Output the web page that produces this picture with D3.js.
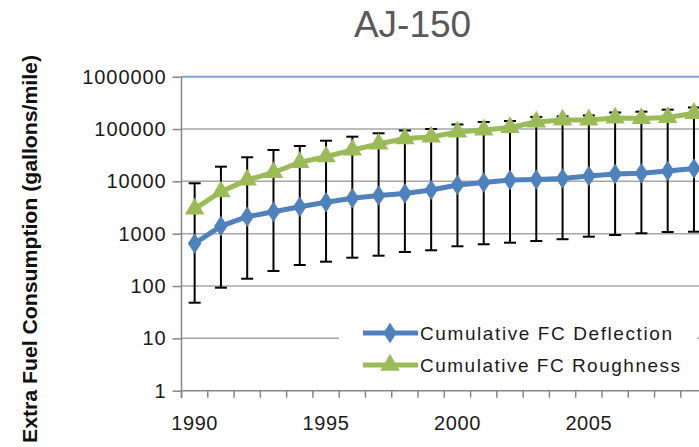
<!DOCTYPE html>
<html>
<head>
<meta charset="utf-8">
<script src="https://cdn.jsdelivr.net/npm/d3@7"></script>
<style>
  body { margin: 0; background: #fff; }
  svg { display: block; font-family: "Liberation Sans", Arial, sans-serif; }
</style>
</head>
<body>
<svg id="chart" width="699" height="447"></svg>
<script>
// categories
var years = [1990, 1991, 1992, 1993, 1994, 1995, 1996, 1997, 1998, 1999,
             2000, 2001, 2002, 2003, 2004, 2005, 2006, 2007, 2008, 2009];
// cumulative fuel consumption, gallons/mile
var deflection = [650, 1400, 2110, 2630, 3280, 3990, 4750, 5370, 5870, 6840,
                  8530, 9520, 10630, 10860, 11350, 12670, 13840, 14270, 15790, 17630];
var roughness = [2970, 6350, 10630, 14790, 22950, 29620, 39800, 51800, 65950, 70500,
                 87900, 95900, 107100, 136400, 148900, 148900, 162600, 159200, 166300, 200000];
// error bars (upper / lower ends)
var errHigh = [9190, 19090, 28840, 39800, 47430, 59840, 71450, 82960, 93800, 100200,
               122200, 136400, 142500, 169900, 173800, 181500, 207100, 214600, 234400, 258200];
var errLow = [48, 93, 138, 194, 252, 292, 348, 380, 447, 482,
              575, 628, 673, 726, 785, 877, 945, 1018, 1079, 1092];
var yTicks = [1, 10, 100, 1000, 10000, 100000, 1000000];
var xLabels = [1990, 1995, 2000, 2005];
var seriesNames = ["Cumulative FC Deflection", "Cumulative FC Roughness"];

var svg = d3.select("#chart");

var left = 181.5, bandW = 26.28;
var x = d3.scaleBand().domain(years).range([left, left + years.length * bandW]);
var y = d3.scaleLog().domain([1, 1000000]).range([390.7, 76.7]);
var right = left + years.length * bandW;
function cx(d) { return x(d) + x.bandwidth() / 2; }

// title
svg.append("text")
  .attr("x", 412.5).attr("y", 36.7)
  .attr("text-anchor", "middle")
  .style("font-size", "37px")
  .style("fill", "#595959")
  .text("AJ-150");

// horizontal gridlines
svg.append("g").selectAll("line")
  .data(yTicks.slice(1))
  .join("line")
  .attr("x1", left).attr("x2", right)
  .attr("y1", d => y(d)).attr("y2", d => y(d))
  .attr("stroke", d => d === 1000000 ? "#7ba0d0" : "#a6a6a6")
  .attr("stroke-width", d => d === 1000000 ? 2 : 1.5);

// y axis
var yAxis = svg.append("g")
  .attr("transform", "translate(" + left + ",0)")
  .call(d3.axisLeft(y).tickValues(yTicks).tickFormat(d3.format("d")).tickSize(9).tickPadding(6));
yAxis.select(".domain").attr("stroke", "#868686").attr("stroke-width", 1.5)
  .attr("d", "M0," + y(1000000) + "V398");
yAxis.selectAll(".tick line").attr("stroke", "#868686").attr("stroke-width", 1.5);
yAxis.selectAll(".tick text")
  .style("font-size", "20px")
  .style("letter-spacing", "0.9px")
  .style("fill", "#1a1a1a")
  .attr("font-family", null);

// x axis
var xAxis = svg.append("g")
  .attr("transform", "translate(0," + y(1) + ")")
  .call(d3.axisBottom(x).tickValues(xLabels).tickSize(0).tickPadding(25));
xAxis.select(".domain").attr("stroke", "#868686").attr("stroke-width", 1.5)
  .attr("d", "M" + left + ",0H" + right);
xAxis.selectAll(".tick text")
  .style("font-size", "20px")
  .style("letter-spacing", "0.6px")
  .style("fill", "#1a1a1a")
  .attr("font-family", null);
xAxis.selectAll(".xt")
  .data(years)
  .join("line")
  .attr("class", "xt")
  .attr("x1", d => x(d)).attr("x2", d => x(d))
  .attr("y1", 0).attr("y2", 7)
  .attr("stroke", "#868686").attr("stroke-width", 1.5);

// y axis title
svg.append("text")
  .attr("transform", "translate(37,249) rotate(-90)")
  .attr("text-anchor", "middle")
  .attr("textLength", 388)
  .attr("lengthAdjust", "spacingAndGlyphs")
  .style("font-size", "20px")
  .style("font-weight", "bold")
  .style("fill", "#111")
  .text("Extra Fuel Consumption (gallons/mile)");

// error bars
var err = svg.append("g").attr("stroke", "#000").attr("stroke-width", 2);
years.forEach(function(yr, i) {
  err.append("line")
    .attr("x1", cx(yr)).attr("x2", cx(yr))
    .attr("y1", y(errHigh[i])).attr("y2", y(errLow[i]));
  [errHigh[i], errLow[i]].forEach(function(v) {
    err.append("line")
      .attr("x1", cx(yr) - 6).attr("x2", cx(yr) + 6)
      .attr("y1", y(v)).attr("y2", y(v));
  });
});

// series lines + markers
var line = d3.line().x((d, i) => cx(years[i])).y(d => y(d));
var diamond = d3.symbol().type(d3.symbolDiamond).size(120);
var triangle = d3.symbol().type(d3.symbolTriangle).size(165);

svg.append("path").datum(deflection)
  .attr("d", line).attr("fill", "none")
  .attr("stroke", "#4f81bd").attr("stroke-width", 5);
svg.append("g").selectAll("path")
  .data(deflection).join("path")
  .attr("d", diamond)
  .attr("transform", (d, i) => "translate(" + cx(years[i]) + "," + y(d) + ") scale(1.15,1)")
  .attr("fill", "#4f81bd");

svg.append("path").datum(roughness)
  .attr("d", line).attr("fill", "none")
  .attr("stroke", "#9bbb59").attr("stroke-width", 5);
svg.append("g").selectAll("path")
  .data(roughness).join("path")
  .attr("d", triangle)
  .attr("transform", (d, i) => "translate(" + cx(years[i]) + "," + y(d) + ")")
  .attr("fill", "#9bbb59");

// legend
var lg = svg.append("g");
lg.append("rect")
  .attr("x", 339).attr("y", 316).attr("width", 358).attr("height", 66)
  .attr("fill", "#fff");
var colors = ["#4f81bd", "#9bbb59"];
var shapes = [diamond, triangle];
var lens = [252, 260];
seriesNames.forEach(function(name, i) {
  var ly = 333 + i * 32;
  lg.append("line")
    .attr("x1", 363).attr("x2", 418)
    .attr("y1", ly).attr("y2", ly)
    .attr("stroke", colors[i]).attr("stroke-width", 5);
  lg.append("path")
    .attr("d", shapes[i])
    .attr("transform", "translate(390," + ly + ")" + (i === 0 ? " scale(1.15,1)" : ""))
    .attr("fill", colors[i]);
  lg.append("text")
    .attr("x", 420).attr("y", ly + 7)
    .attr("textLength", lens[i])
    .attr("lengthAdjust", "spacing")
    .style("font-size", "19px")
    .style("fill", "#1a1a1a")
    .text(name);
});
</script>
</body>
</html>
